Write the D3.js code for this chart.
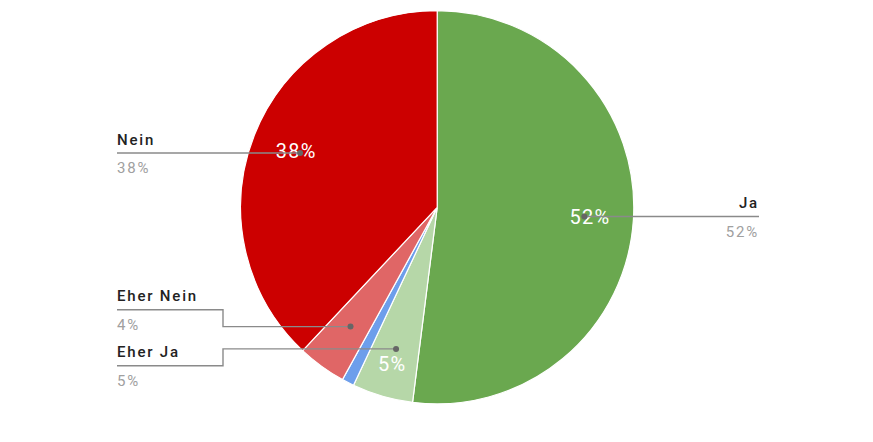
<!DOCTYPE html>
<html><head><meta charset="utf-8">
<script src="https://cdn.jsdelivr.net/npm/d3@7"></script>
<style>
html,body{margin:0;padding:0;background:#fff;}
svg{display:block;font-family:Roboto, "Liberation Sans", Arial, sans-serif;}
</style></head>
<body><svg id="chart" width="873" height="442"></svg>
<script>
// Data (clockwise from 12 o'clock)
const categories = ["Ja", "Eher Ja", "Weiß nicht", "Eher Nein", "Nein"];
const values = [52, 5, 1, 4, 38];
const colors = ["#6aa84f", "#b6d7a8", "#6d9eeb", "#e06666", "#cc0000"];
const showLabel = [true, true, false, true, true];

const W = 873, H = 442;
const cx = 437.2, cy = 207.3, R = 196.6;
const svg = d3.select("#chart");
const g = svg.append("g").attr("transform", `translate(${cx},${cy})`);

const total = d3.sum(values);
const pie = d3.pie().sort(null).value(d => d.v);
const data = categories.map((c, i) => ({name: c, v: values[i], color: colors[i], show: showLabel[i]}));
const arcs = pie(data);
const arc = d3.arc().innerRadius(0).outerRadius(R);
const dotArc = d3.arc().innerRadius(R * 0.75).outerRadius(R * 0.75);

g.selectAll("path.slice").data(arcs).join("path")
  .attr("class", "slice")
  .attr("d", arc)
  .attr("fill", d => d.data.color)
  .attr("stroke", "#fff")
  .attr("stroke-width", 1.2);

const pct = v => Math.round(v / total * 100) + "%";

// inside labels (only slices of at least 5%)
const innerLS = 1.3;
g.selectAll("text.inner").data(arcs.filter(d => d.data.v / total >= 0.05)).join("text")
  .attr("class", "inner")
  .attr("transform", d => {
    const frac = (d.endAngle - d.startAngle) / (2 * Math.PI);
    const rr = frac < 0.08 ? R * 0.83 : R * 0.775;
    const a = (d.startAngle + d.endAngle) / 2;
    return `translate(${Math.sin(a) * rr + innerLS / 2},${-Math.cos(a) * rr})`;
  })
  .attr("text-anchor", "middle")
  .attr("dy", "0.36em")
  .attr("fill", "#fff")
  .style("font-size", "20px")
  .style("letter-spacing", innerLS + "px")
  .text(d => pct(d.data.v));

// outside labels with collision avoidance
const leftX = 117, rightX = 759, elbowOffset = 106, minGap = 56;
const labeled = arcs.filter(d => d.data.show).map(d => {
  const [x, y] = dotArc.centroid(d);
  return {d, px: cx + x, py: cy + y, ly: cy + y, left: (d.startAngle + d.endAngle) / 2 > Math.PI};
});
["left", "right"].forEach(side => {
  const arr = labeled.filter(l => (side === "left") === l.left).sort((a, b) => a.ly - b.ly);
  for (let it = 0; it < 50; it++) {
    for (let i = 1; i < arr.length; i++) {
      const gap = arr[i].ly - arr[i - 1].ly;
      if (gap < minGap) {
        const push = (minGap - gap) / 2;
        arr[i].ly += push; arr[i - 1].ly -= push;
      }
    }
  }
});

const lab = svg.append("g");
const outLS = 1.8;
labeled.forEach(l => {
  const lineColor = "#8a8a8a";
  let pts;
  if (l.left) {
    const ex = leftX + elbowOffset;
    pts = Math.abs(l.ly - l.py) < 0.5 ? [[leftX, l.ly], [l.px, l.py]]
        : [[leftX, l.ly], [ex, l.ly], [ex, l.py], [l.px, l.py]];
  } else {
    const ex = rightX - elbowOffset;
    pts = Math.abs(l.ly - l.py) < 0.5 ? [[rightX, l.ly], [l.px, l.py]]
        : [[rightX, l.ly], [ex, l.ly], [ex, l.py], [l.px, l.py]];
  }
  lab.append("path")
    .attr("d", d3.line()(pts))
    .attr("fill", "none")
    .attr("stroke", lineColor)
    .attr("stroke-width", 1.4);
  lab.append("circle").attr("cx", l.px).attr("cy", l.py).attr("r", 3).attr("fill", "#666");
  const tx = l.left ? leftX : rightX;
  const anchor = l.left ? "start" : "end";
  lab.append("text")
    .attr("x", tx).attr("y", l.ly - 8.5)
    .attr("text-anchor", anchor)
    .attr("fill", "#222")
    .style("font-size", "15px").style("font-weight", "500")
    .style("letter-spacing", outLS + "px")
    .text(l.d.data.name);
  lab.append("text")
    .attr("x", tx).attr("y", l.ly + 20)
    .attr("text-anchor", anchor)
    .attr("fill", "#a0a0a0")
    .style("font-size", "15px")
    .style("letter-spacing", outLS + "px")
    .text(pct(l.d.data.v));
});
</script></body></html>
